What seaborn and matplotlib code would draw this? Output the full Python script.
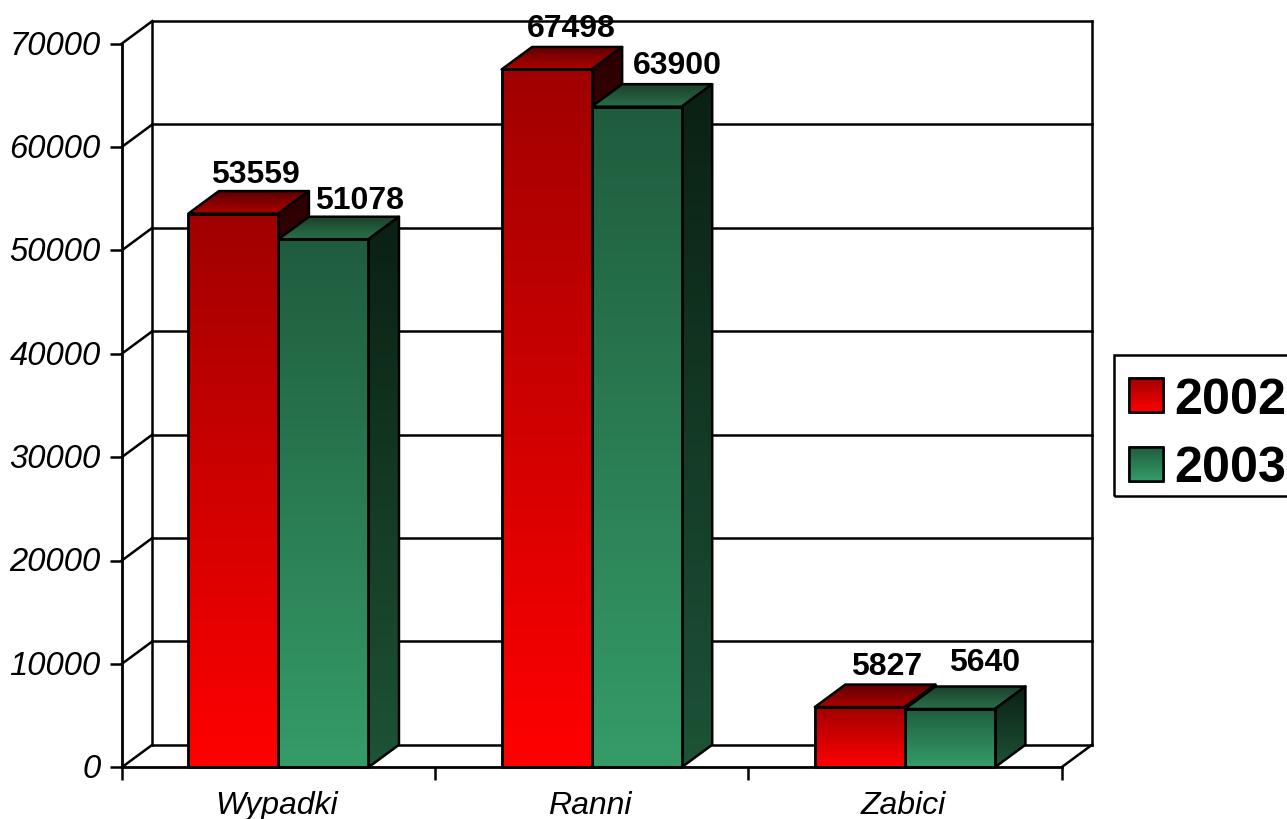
import numpy as np
import pandas as pd
import matplotlib
matplotlib.use("Agg")
import matplotlib.pyplot as plt
import seaborn as sns
from matplotlib.colors import LinearSegmentedColormap
from matplotlib.lines import Line2D
from matplotlib.patches import Patch, Polygon, Rectangle
from matplotlib.transforms import IdentityTransform, ScaledTranslation

categories = ["Wypadki", "Ranni", "Zabici"]
years = ["2002", "2003"]
values_2002 = [53559, 67498, 5827]
values_2003 = [51078, 63900, 5640]
y_ticks = [0, 10000, 20000, 30000, 40000, 50000, 60000, 70000]

W, H = 1287, 820
DX, DY = 30.5, 22.5    # depth of the 3-D effect, px
LW = 1.8
FRONT = {"2002": ("#a00000", "#ff0000"), "2003": ("#1f5c3e", "#359c68")}
TOP = {"2002": ("#5c0000", "#b00000"), "2003": ("#1b3f2c", "#2a7049")}
SIDE = {"2002": ("#2c0000", "#700000"), "2003": ("#0a2013", "#1d5336")}
LABEL_NUDGE_X = {"2002": [22, 25, 27], "2003": [36, 41, 35]}
LABEL_NUDGE_Y = {"2002": [0, 2, 2], "2003": [0, 2, 7]}

sns.set_theme(style="white")
plt.rcParams["font.family"] = ["Liberation Sans", "DejaVu Sans"]

df = pd.DataFrame({
    "kategoria": categories * 2,
    "rok": [years[0]] * 3 + [years[1]] * 3,
    "liczba": values_2002 + values_2003,
})

fig = plt.figure(figsize=(W / 100, H / 100), dpi=100, facecolor="white")
ax = fig.add_axes([121.8 / W, (H - 768.3) / H, 939.7 / W, 723.7 / H])
ax.patch.set_alpha(0)
sns.barplot(data=df, x="kategoria", y="liczba", hue="rok", hue_order=years,
            palette={y: FRONT[y][1] for y in years}, width=0.575, gap=0,
            saturation=1, errorbar=None, legend=False, ax=ax,
            edgecolor="black", linewidth=LW)
ax.set_xlim(-0.5, 2.5)
ax.set_ylim(0, 70000)
ax.set_autoscale_on(False)
ax.set_xlabel("")
ax.set_ylabel("")
ax.set_yticks(y_ticks)
ax.set_xticks(range(3))
ax.set_xticks([-0.5, 0.5, 1.5, 2.5], minor=True)
for s in ("top", "right"):
    ax.spines[s].set_visible(False)
for s in ("left", "bottom"):
    ax.spines[s].set_visible(True)
    ax.spines[s].set_linewidth(LW + 0.2)
    ax.spines[s].set_color("black")
ax.tick_params(axis="y", which="major", left=True, length=8.6, width=LW, color="black",
               pad=6.5, labelsize=23.6, labelcolor="black")
ax.tick_params(axis="x", which="major", bottom=False, length=0, pad=16.5, labelsize=23, labelcolor="black")
ax.tick_params(axis="x", which="minor", bottom=True, length=9.2, width=LW, color="black")
for t in ax.get_xticklabels() + ax.get_yticklabels():
    t.set_fontstyle("italic")
for t in ax.get_yticklabels():
    t.set_transform(t.get_transform() + ScaledTranslation(0, 1.5 / 72, fig.dpi_scale_trans))
for t in ax.get_xticklabels():
    t.set_transform(t.get_transform() + ScaledTranslation(-1.5 * 0.72 / 72, 0, fig.dpi_scale_trans))

to_px = ax.transData.transform


def line(p0, p1, lw=LW, z=1.0):
    ax.add_line(Line2D([p0[0], p1[0]], [p0[1], p1[1]], color="black", lw=lw,
                       transform=IdentityTransform(), clip_on=False, zorder=z,
                       solid_capstyle="projecting"))


def shaded(verts, top_col, bot_col, z, outline=True):
    verts = np.asarray(verts, float)
    x0, y0 = verts.min(axis=0)
    x1, y1 = verts.max(axis=0)
    cmap = LinearSegmentedColormap.from_list("g", [top_col, bot_col])
    grad = np.linspace(0, 1, 256).reshape(-1, 1)
    im = ax.imshow(grad, cmap=cmap, aspect="auto", extent=(x0, x1, y0, y1), origin="upper",
                   transform=IdentityTransform(), interpolation="bilinear", zorder=z)
    clip = Polygon(verts, closed=True, transform=IdentityTransform())
    im.set_clip_path(clip)
    im.set_clip_box(fig.bbox)
    if outline:
        ax.add_patch(Polygon(verts, closed=True, fill=False, edgecolor="black", lw=LW,
                             transform=IdentityTransform(), clip_on=False, zorder=z + 0.001,
                             joinstyle="round"))


# back wall, side wall and floor
(xl, y_zero), (xr, _) = to_px((-0.5, 0)), to_px((2.5, 0))
for v in y_ticks:
    _, y = to_px((-0.5, v))
    line((xl + DX, y + DY), (xr + DX, y + DY))
    line((xl, y), (xl + DX, y + DY))
_, y_top = to_px((-0.5, y_ticks[-1]))
line((xl + DX, y_zero + DY), (xl + DX, y_top + DY))
line((xr + DX, y_zero + DY), (xr + DX, y_top + DY))
line((xr, y_zero), (xr + DX, y_zero + DY))

# bars: faces are painted back to front from the seaborn bar rectangles
z = 3.0
for i in range(len(categories)):
    for c, year in zip(ax.containers, years):
        bar = c[i]
        x0, x1 = bar.get_x(), bar.get_x() + bar.get_width()
        h = bar.get_height()
        (a, b), (cc, d) = to_px((x0, 0)), to_px((x1, h))
        shaded([(a, d), (cc, d), (cc + DX, d + DY), (a + DX, d + DY)],
               TOP[year][0], TOP[year][1], z)
        shaded([(cc, b), (cc + DX, b + DY), (cc + DX, d + DY), (cc, d)],
               SIDE[year][0], SIDE[year][1], z + 0.01)
        shaded([(a, b), (cc, b), (cc, d), (a, d)],
               FRONT[year][0], FRONT[year][1], z + 0.02)
        bar.set_zorder(z + 0.03)
        bar.set_facecolor("none")
        bar.set_edgecolor("black")
        z += 0.1
        ax.annotate(f"{int(h)}", xy=((x0 + x1) / 2, h), xycoords="data",
                    xytext=(LABEL_NUDGE_X[year][i] * 0.72,
                            (DY + 9 + LABEL_NUDGE_Y[year][i]) * 0.72),
                    textcoords="offset points", ha="center", va="baseline",
                    fontsize=23, fontweight="bold", color="black",
                    annotation_clip=False, zorder=20)

# legend
handles = [Patch(facecolor=FRONT[y][1], edgecolor="black", lw=LW, label=y) for y in years]
leg = ax.legend(handles=handles, loc="upper left", bbox_to_anchor=(1114 / W, 1 - 363 / H),
                bbox_transform=fig.transFigure, borderaxespad=0, borderpad=0.3,
                handlelength=0.68, handleheight=0.66, handletextpad=0.21, labelspacing=0.44,
                prop={"size": 36.2, "weight": "bold"}, frameon=False, labelcolor="black")
leg.set_zorder(30)
fig.add_artist(Rectangle((1114 / W, 1 - 497 / H), 190 / W, 141 / H, fill=False,
                         edgecolor="black", lw=LW, transform=fig.transFigure))
fig.canvas.draw()
for hd, y in zip(leg.legend_handles, years):
    bb = hd.get_window_extent()
    shaded([(bb.x0, bb.y0), (bb.x1, bb.y0), (bb.x1, bb.y1), (bb.x0, bb.y1)],
           FRONT[y][0], FRONT[y][1], 31)

ax.set_xlim(-0.5, 2.5)
ax.set_ylim(0, 70000)
fig.savefig("out.png", dpi=100, facecolor="white")
